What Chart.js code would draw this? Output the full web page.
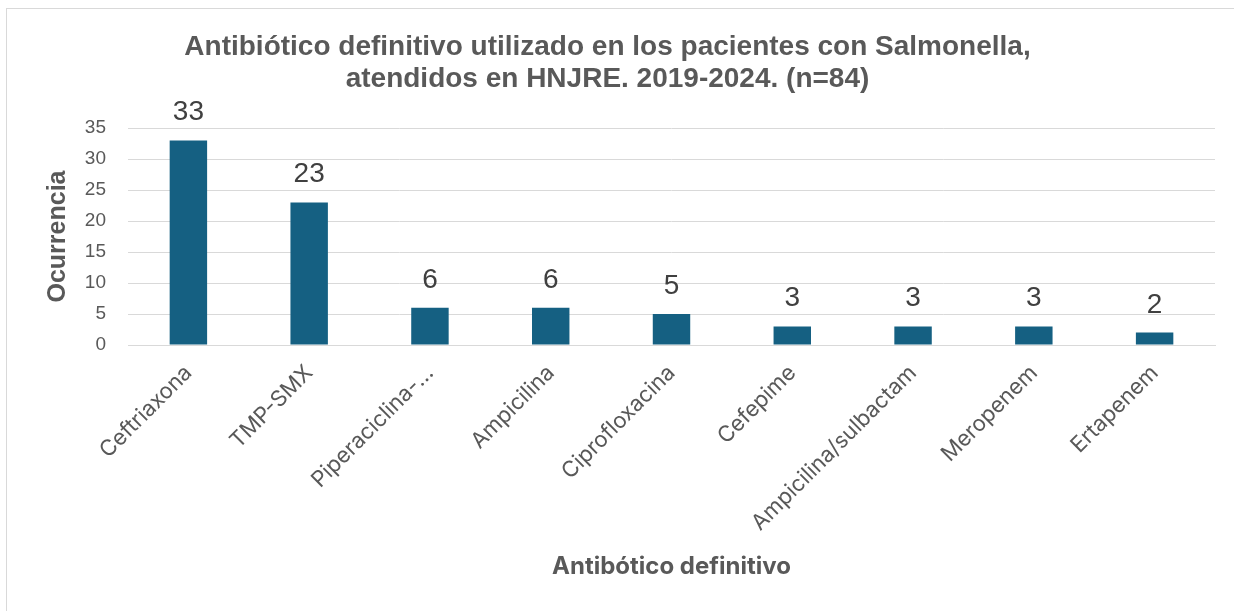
<!DOCTYPE html>
<html>
<head>
<meta charset="utf-8">
<script src="https://cdn.jsdelivr.net/npm/chart.js@4.4.1/dist/chart.umd.min.js"></script>
<style>
  body { margin: 0; background: #fff; }
  #frame { position: absolute; left: 6px; top: 8px; width: 1240px; height: 620px; border: 1px solid #d9d9d9; background: #fff; }
  #wrap { position: absolute; left: 0; top: 0; width: 1234px; height: 611px; }
</style>
</head>
<body>
<div id="frame"></div>
<div id="wrap"><canvas id="chart"></canvas></div>
<script>
// datos del grafico
const antibioticos = ["Ceftriaxona", "TMP-SMX", "Piperaciclina-…", "Ampicilina", "Ciprofloxacina",
  "Cefepime", "Ampicilina/sulbactam", "Meropenem", "Ertapenem"];
const ocurrencia = [33, 23, 6, 6, 5, 3, 3, 3, 2];
const yTicks = [0, 5, 10, 15, 20, 25, 30, 35];

const gris = "#595959";

// etiquetas encima de cada barra
const etiquetasPlugin = {
  id: "etiquetas",
  afterDatasetsDraw(chart) {
    const ctx = chart.ctx;
    const meta = chart.getDatasetMeta(0);
    ctx.save();
    ctx.fillStyle = "#404040";
    ctx.font = "28px 'Liberation Sans', Arial";
    ctx.textAlign = "center";
    ctx.textBaseline = "alphabetic";
    meta.data.forEach((bar, i) => {
      ctx.fillText(ocurrencia[i], bar.x, bar.y - 20);
    });
    ctx.restore();
  }
};

// titulo del eje x (va solapado con las etiquetas largas, como en el original)
const tituloXPlugin = {
  id: "tituloX",
  afterDraw(chart) {
    const ctx = chart.ctx;
    const area = chart.chartArea;
    ctx.save();
    ctx.fillStyle = gris;
    ctx.font = "bold 24px Inter, 'Open Sans', sans-serif";
    ctx.textAlign = "center";
    ctx.textBaseline = "middle";
    ctx.fillText("Antibótico definitivo", (area.left + area.right) / 2, area.bottom + 222);
    ctx.restore();
  }
};

new Chart(document.getElementById("chart"), {
  type: "bar",
  data: {
    labels: antibioticos,
    datasets: [{
      data: ocurrencia,
      backgroundColor: "#156082",
      categoryPercentage: 1,
      barPercentage: 0.31
    }]
  },
  plugins: [etiquetasPlugin, tituloXPlugin],
  options: {
    responsive: true,
    maintainAspectRatio: false,
    animation: false,
    layout: { padding: { left: 0, right: 19, top: 0, bottom: 0 } },
    plugins: {
      legend: { display: false },
      tooltip: { enabled: false },
      title: {
        display: true,
        text: ["Antibiótico definitivo utilizado en los pacientes con Salmonella,",
               "atendidos en HNJRE. 2019-2024. (n=84)"],
        color: gris,
        font: { family: "'Liberation Sans', Arial", size: 28, weight: "bold", lineHeight: 1.143 },
        padding: { top: 31, bottom: 33 }
      }
    },
    scales: {
      x: {
        grid: { display: false },
        border: { color: "#d9d9d9" },
        ticks: {
          color: gris,
          font: { family: "Inter, 'Open Sans', sans-serif", size: 22 },
          minRotation: 45,
          maxRotation: 45,
          autoSkip: false,
          padding: 7
        },
        afterFit(scale) { scale.height = 266; }
      },
      y: {
        min: 0,
        max: 35,
        afterBuildTicks(scale) { scale.ticks = yTicks.map(v => ({ value: v })); },
        grid: { color: "#d9d9d9", drawTicks: false },
        border: { display: false },
        ticks: {
          color: gris,
          font: { family: "'Liberation Sans', Arial", size: 19 },
          padding: 22
        },
        title: {
          display: true,
          text: "Ocurrencia",
          color: gris,
          font: { family: "'Liberation Sans', Arial", size: 25, weight: "bold", lineHeight: 1.2 },
          padding: { top: 43, bottom: 0 }
        },
        afterFit(scale) { scale.width = 128; }
      }
    }
  }
});
</script>
</body>
</html>
